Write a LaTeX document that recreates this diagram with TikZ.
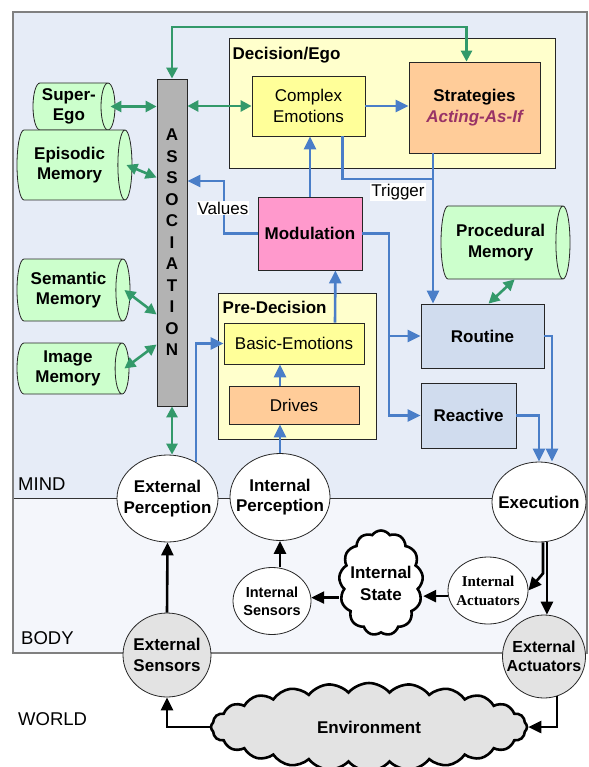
\documentclass[tikz,border=0pt]{standalone}
\usepackage{fontspec}
\setmainfont{Liberation Sans}
\newfontfamily\actfont{Liberation Serif}
\usetikzlibrary{positioning, shapes.geometric, shapes.symbols, arrows.meta, calc}

\definecolor{mindbg}{HTML}{E6ECF7}
\definecolor{bodybg}{HTML}{F4F6FB}
\definecolor{memfill}{HTML}{CCFFCC}
\definecolor{assocfill}{HTML}{B3B3B3}
\definecolor{groupfill}{HTML}{FFFFCC}
\definecolor{emofill}{HTML}{FFFF99}
\definecolor{orangefill}{HTML}{FFCC99}
\definecolor{pinkfill}{HTML}{FF99CC}
\definecolor{behavfill}{HTML}{D0DCEE}
\definecolor{actpurple}{HTML}{993366}
\definecolor{flowblue}{HTML}{4A7EC8}
\definecolor{linkgreen}{HTML}{33996A}
\definecolor{worldgray}{HTML}{E3E3E3}

\tikzset{
    txt/.style={font=\fontsize{17}{20.5}\selectfont, align=center},
    title/.style={txt, font=\fontsize{17}{20.5}\selectfont\bfseries, inner sep=0pt},
    box/.style={txt, rectangle, draw=black!85, line width=0.8pt, inner sep=2pt},
    boldbox/.style={box, font=\fontsize{17}{20.5}\selectfont\bfseries},
    groupbox/.style={box, fill=groupfill, line width=1pt},
    memory/.style={title, cylinder, shape border rotate=0, aspect=0.35, draw=black!85, line width=0.8pt, fill=memfill, inner xsep=0pt, inner ysep=2pt, anchor=shape center},
    stage/.style={ellipse, draw=black!85, line width=0.8pt, fill=white, inner sep=0pt},
    zone/.style={txt, font=\fontsize{18.5}{20}\selectfont, anchor=base west, inner sep=0pt},
    link/.style={draw=linkgreen, line width=2.6pt, {Triangle[length=11pt,width=11pt]}-{Triangle[length=11pt,width=11pt]}},
    flow/.style={draw=flowblue, line width=2.6pt},
    hard/.style={draw=black, line width=2.6pt}
}

\begin{document}
\begin{tikzpicture}[x=1pt, y=-1pt, >={Triangle[length=13pt,width=12pt]}]
    \useasboundingbox (0,0) rectangle (588,767);
    \fill[mindbg] (13,12) rectangle (587,498);
    \fill[bodybg] (13,498) rectangle (587,653);
    \draw[black!80, line width=0.8pt] (13,498) -- (587,498);
    \draw[gray, line width=1.2pt] (13,12) rectangle (587,653);

    \node[zone] (Mind) at (18,490) {MIND};
    \node[zone] (Body) at (21,644) {BODY};
    \node[zone] (World) at (18,725) {WORLD};

    \node[box, fill=assocfill, minimum width=30pt, minimum height=327pt, font=\fontsize{17}{21.5}\selectfont\bfseries] (Assoc) at (172,242.5) {A\\S\\S\\O\\C\\I\\A\\T\\I\\O\\N};

    \node[memory, minimum height=82pt, minimum width=47pt] (SuperEgo) at (74,106.5) {Super-\\Ego};
    \node[memory, minimum height=115pt, minimum width=70pt] (Episodic) at (74.5,165) {Episodic\\Memory};
    \node[memory, minimum height=113pt, minimum width=62pt] (Semantic) at (73.5,290) {Semantic\\Memory};
    \node[memory, minimum height=112pt, minimum width=51pt] (Image) at (73,368.5) {Image\\Memory};
    \node[memory, minimum height=129pt, minimum width=73pt] (Procedural) at (505.5,242.5) {Procedural\\Memory};

    \node[groupbox, minimum width=326pt, minimum height=130pt] (Decision) at (392,104) {};
    \node[title, anchor=base west] (DecTitle) at ([xshift=4pt,yshift=-21pt]Decision.north west) {Decision/Ego};
    \node[box, fill=emofill, minimum width=113pt, minimum height=60pt] (Complex) at (308.5,106) {Complex\\Emotions};
    \node[boldbox, fill=orangefill, minimum width=131pt, minimum height=91pt] (Strategies) at (474.5,107.5) {Strategies\\{\color{actpurple}\itshape Acting-As-If}};
    \node[boldbox, fill=pinkfill, minimum width=104pt, minimum height=73pt] (Modulation) at (310,233.5) {Modulation};

    \node[groupbox, minimum width=158pt, minimum height=146pt] (PreDec) at (297,366) {};
    \node[title, anchor=base west] (PreTitle) at ([xshift=5pt,yshift=-21pt]PreDec.north west) {Pre-Decision};
    \node[box, fill=emofill, minimum width=140pt, minimum height=41pt] (Basic) at (294,343.5) {Basic-Emotions};
    \node[box, fill=orangefill, minimum width=130pt, minimum height=38pt] (Drives) at (294,405) {Drives};

    \node[boldbox, fill=behavfill, minimum width=123pt, minimum height=64pt] (Routine) at (482.5,336) {Routine};
    \node[boldbox, fill=behavfill, minimum width=95pt, minimum height=65pt] (Reactive) at (468.5,415.5) {Reactive};

    \node[stage, minimum width=101pt, minimum height=87pt, label={[title]center:External\\Perception}] (ExtPerc) at (167.5,498.5) {};
    \node[stage, minimum width=100pt, minimum height=87pt, label={[title]center:Internal\\Perception}] (IntPerc) at (280,497) {};
    \node[stage, minimum width=94pt, minimum height=80pt, label={[title]center:Execution}] (Exec) at (539,502) {};
    \node[stage, minimum width=78pt, minimum height=67pt, label={[title, font=\fontsize{14.5}{18}\selectfont\bfseries]center:Internal\\Sensors}] (IntSens) at (272,601) {};
    \node[cloud, cloud puffs=13, cloud puff arc=110, cloud ignores aspect, draw, line width=2.6pt, fill=white, inner sep=0pt, minimum width=84pt, minimum height=105pt, label={[title, font=\fontsize{17}{22}\selectfont\bfseries]center:Internal\\State}] (IntState) at (381,583) {};
    \node[stage, minimum width=80pt, minimum height=67pt, label={[title, font=\actfont\fontsize{15}{19}\selectfont\bfseries]center:Internal\\Actuators}] (IntAct) at (488,590.5) {};
    \node[stage, fill=worldgray, minimum width=88pt, minimum height=84pt, label={[title]center:External\\Sensors}] (ExtSens) at (167,655) {};
    \node[stage, fill=worldgray, minimum width=83pt, minimum height=83pt, label={[title, font=\fontsize{16}{19}\selectfont\bfseries]center:External\\Actuators}] (ExtAct) at (544,656.5) {};
    \node[cloud, cloud puffs=24, cloud puff arc=100, cloud ignores aspect, draw, line width=2.6pt, fill=worldgray, inner sep=0pt, minimum width=316pt, minimum height=88pt, label={[title]center:Environment}] (Env) at (369,727) {};

    \coordinate (Loop) at (172,27);
    \draw[link] (Assoc.north) -- (Loop) -| ([xshift=-8pt]Strategies.north);
    \draw[link] ([xshift=-5pt]SuperEgo.east) -- (SuperEgo.east -| Assoc.west);
    \draw[link] (Assoc.east |- Complex.west) -- (Complex.west);
    \draw[link] ([xshift=-6pt]Episodic.east) -- ([yshift=65pt]Assoc.west);
    \draw[link] ([xshift=-6pt]Semantic.east) -- ([yshift=-72pt]Assoc.west);
    \draw[link] ([xshift=-5pt]Image.east) -- ([yshift=-102pt]Assoc.west);
    \draw[link] (Assoc.south) -- (Assoc.south |- ExtPerc.north);
    \draw[link] ([xshift=14pt]Procedural.south) -- ([xshift=6pt]Routine.north);

    \draw[flow,->] (Complex.east) -- (Complex.east -| Strategies.west);
    \draw[flow,->] (Modulation.north) -- (Modulation.north |- Complex.south);
    \coordinate (Trig) at (433,179);
    \draw[flow] ([xshift=34pt]Complex.south) |- (Trig);
    \draw[flow,->] (Strategies.south -| Trig) -- (Trig |- Routine.north);
    \coordinate (ValBend) at (224,181);
    \draw[flow,->] (Modulation.west) -| (ValBend) -- (ValBend -| Assoc.east);
    \coordinate (ModSplit) at (389,233.5);
    \draw[flow,->] (Modulation.east) -- (ModSplit) |- (Reactive.west);
    \draw[flow,->] (ModSplit |- Routine.west) -- (Routine.west);
    \draw[flow,->] ([xshift=41pt]Basic.north) -- ([xshift=-27pt]Modulation.south east);
    \draw[flow,->] (IntPerc.north) -- (IntPerc.north |- Drives.south);
    \draw[flow,->] (IntPerc.north |- Drives.north) -- (IntPerc.north |- Basic.south);
    \draw[flow,->] (ExtPerc.52) |- (Basic.west);
    \draw[flow,->] (Routine.east) -| ([xshift=13pt]Exec.north);
    \draw[flow,->] (Reactive.east) -| (Exec.north);

    \node[txt, fill=white, inner sep=1pt] (Trigger) at (398,192) {Trigger};
    \node[txt, fill=white, inner sep=1pt] (Values) at (223,208) {Values};

    \draw[hard,->] (ExtSens.north) -- (ExtPerc.south);
    \draw[hard,->] (IntSens.north -| IntPerc) -- (IntPerc.south);
    \draw[hard,->] (IntAct.188) -- (IntAct.188 -| IntState.east);
    \draw[hard,->] (IntSens.5 -| IntState.west) -- (IntSens.5);
    \draw[hard,->] ([xshift=4pt]Exec.south) -- ++(0,31) -- (IntAct.east);
    \draw[hard,->] (Exec.south -| ExtAct.86) -- (ExtAct.86);
    \draw[hard,->] (ExtAct.-72) |- (Env.east);
    \draw[hard,->] (Env.west) -| (ExtSens.south);
\end{tikzpicture}
\end{document}
